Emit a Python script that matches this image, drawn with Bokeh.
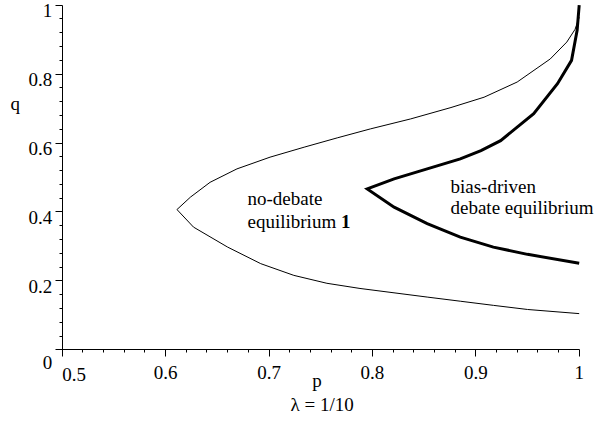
from bokeh.plotting import figure
from bokeh.models import FixedTicker, Label, Range1d
from bokeh.embed import file_html
from bokeh.resources import INLINE

# no-debate boundary (thin): lower branch from the cusp, then upper branch
thin_lower_p = [0.611, 0.627, 0.660, 0.692, 0.724, 0.756, 0.788, 0.853, 0.885, 0.917, 0.950, 1.000]
thin_lower_q = [0.407, 0.356, 0.298, 0.250, 0.216, 0.193, 0.178, 0.153, 0.141, 0.129, 0.117, 0.105]
thin_upper_p = [0.611, 0.624, 0.643, 0.669, 0.701, 0.734, 0.766, 0.798, 0.837, 0.876, 0.908, 0.940, 0.972, 0.988, 0.996, 1.000]
thin_upper_q = [0.407, 0.443, 0.486, 0.525, 0.559, 0.588, 0.615, 0.641, 0.670, 0.703, 0.733, 0.777, 0.844, 0.893, 0.930, 0.965]

# bias-driven debate boundary (thick)
thick_lower_p = [0.795, 0.821, 0.853, 0.885, 0.917, 0.950, 1.000]
thick_lower_q = [0.467, 0.414, 0.366, 0.327, 0.298, 0.277, 0.251]
thick_upper_p = [0.795, 0.821, 0.853, 0.885, 0.905, 0.924, 0.956, 0.979, 0.9926, 0.998, 1.000]
thick_upper_q = [0.467, 0.496, 0.525, 0.554, 0.578, 0.607, 0.685, 0.772, 0.840, 0.927, 1.000]

x_major = [0.5, 0.6, 0.7, 0.8, 0.9, 1.0]
x_minor = [0.52, 0.54, 0.56, 0.58, 0.62, 0.64, 0.66, 0.68, 0.72, 0.74, 0.76, 0.78,
           0.82, 0.84, 0.86, 0.88, 0.92, 0.94, 0.96, 0.98]
x_labels = ["", "0.6", "0.7", "0.8", "0.9", "1"]
y_major = [0.0, 0.2, 0.4, 0.6, 0.8, 1.0]
y_minor = [0.04, 0.08, 0.12, 0.16, 0.24, 0.28, 0.32, 0.36, 0.44, 0.48, 0.52, 0.56,
           0.64, 0.68, 0.72, 0.76, 0.84, 0.88, 0.92, 0.96]
y_labels = ["", "0.2", "0.4", "0.6", "0.8", "1"]

FONT = "Liberation Serif"
FS = "19px"

# layout: pixel of p=0.5 / q=0, pixels per unit, canvas size
X0_PX, X_SCALE = 61.7, 1034.0
Y0_PX, Y_SCALE = 349.3, 344.6
W, H = 595, 424
LBL_DY = -6.0   # baseline correction for text labels

def px2p(px):
    return 0.5 + (px - X0_PX) / X_SCALE

def py2q(py):
    return (Y0_PX - py) / Y_SCALE

p = figure(width=W, height=H,
           x_range=Range1d(px2p(0), px2p(W)),
           y_range=Range1d(py2q(H), py2q(0)),
           output_backend="svg", toolbar_location=None,
           min_border_left=0, min_border_right=0, min_border_top=0, min_border_bottom=0)
p.grid.visible = False
p.outline_line_color = None

for ax in (p.xaxis[0], p.yaxis[0]):
    ax.axis_line_color = "black"
    ax.axis_line_width = 1
    ax.major_tick_line_color = "black"
    ax.minor_tick_line_color = "black"
    ax.major_tick_in = 0
    ax.major_tick_out = 7
    ax.minor_tick_in = 0
    ax.minor_tick_out = 3
    ax.major_label_text_font = FONT
    ax.major_label_text_font_size = FS
    ax.major_label_text_color = "black"

p.xaxis.fixed_location = 0.0
p.xaxis.ticker = FixedTicker(ticks=x_major, minor_ticks=x_minor)
p.xaxis.major_label_overrides = {v: s for v, s in zip(x_major, x_labels)}
p.xaxis.bounds = (0.5, 1.0)
p.xaxis.major_label_standoff = 9
p.yaxis.fixed_location = 0.5
p.yaxis.ticker = FixedTicker(ticks=y_major, minor_ticks=y_minor)
p.yaxis.major_label_overrides = {v: "" for v in y_major}
p.yaxis.bounds = (py2q(Y0_PX + 6), 1.0)

p.line(thin_lower_p[::-1] + thin_upper_p[1:], thin_lower_q[::-1] + thin_upper_q[1:],
       line_color="black", line_width=1, line_join="miter")
p.line(thick_lower_p[::-1] + thick_upper_p[1:], thick_lower_q[::-1] + thick_upper_q[1:],
       line_color="black", line_width=3, line_join="miter")

def lab(px, py, t, align="left", style="normal"):
    p.add_layout(Label(x=px2p(px), y=py2q(py + LBL_DY), text=t, text_font=FONT,
                       text_font_size=FS, text_color="black", text_align=align,
                       text_baseline="alphabetic", text_font_style=style))

# y tick labels (placed slightly below their ticks, as in the original)
for v, s in zip(y_major, y_labels):
    if s:
        p.add_layout(Label(x=0.5, y=v, x_offset=-10, y_offset=-(11.7 + LBL_DY), text=s,
                           text_font=FONT, text_font_size=FS, text_color="black",
                           text_align="right", text_baseline="alphabetic"))

lab(61.7, 380, "0.5")
lab(51.7, 368, "0", align="right")
lab(10, 108.7, "q")
lab(311.7, 386, "p")
lab(290, 410, "λ = 1/10")
lab(247, 204, "no-debate")
lab(247, 226.7, "equilibrium")
lab(340.5, 226.7, "1", style="bold")
lab(450, 191.7, "bias-driven")
lab(450, 213.3, "debate equilibrium")

open("out.html", "w").write(file_html(p, INLINE))
